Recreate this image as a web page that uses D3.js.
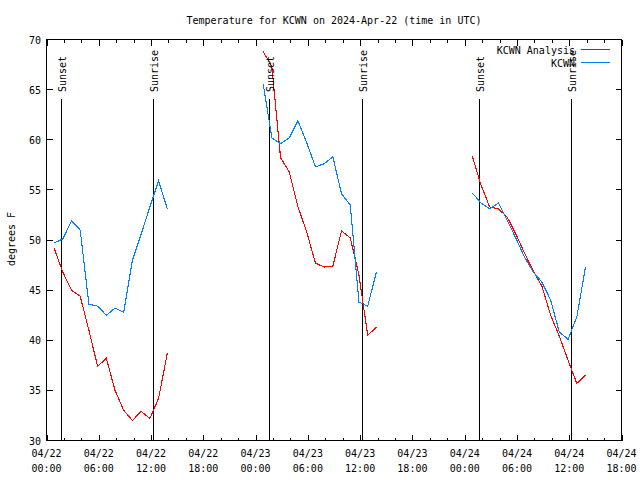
<!DOCTYPE html>
<html><head><meta charset="utf-8">
<script src="https://cdn.jsdelivr.net/npm/d3@7"></script>
<style>
html,body{margin:0;padding:0;background:#fff;}
svg{display:block;}
text{font-family:"DejaVu Sans Mono","Liberation Mono",monospace;font-size:10px;fill:#000;}
</style></head>
<body><svg id="c" width="640" height="480"></svg>
<script>
const titleText = "Temperature for KCWN on 2024-Apr-22 (time in UTC)";
const yLabel = "degrees F";
const seriesNames = ["KCWN Analysis", "KCWN"];
const seriesColors = ["#ff0000", "#0080ff"];
const times = [
 "2024-04-22 00:52","2024-04-22 01:52","2024-04-22 02:52","2024-04-22 03:52","2024-04-22 04:52","2024-04-22 05:52","2024-04-22 06:52",
 "2024-04-22 07:52","2024-04-22 08:52","2024-04-22 09:52","2024-04-22 10:52","2024-04-22 11:52","2024-04-22 12:52","2024-04-22 13:52",
 "2024-04-23 00:52","2024-04-23 01:52","2024-04-23 02:52","2024-04-23 03:52","2024-04-23 04:52","2024-04-23 05:52","2024-04-23 06:52",
 "2024-04-23 07:52","2024-04-23 08:52","2024-04-23 09:52","2024-04-23 10:52","2024-04-23 11:52","2024-04-23 12:52","2024-04-23 13:52",
 "2024-04-24 00:52","2024-04-24 01:52","2024-04-24 02:52","2024-04-24 03:52","2024-04-24 04:52","2024-04-24 05:52","2024-04-24 06:52",
 "2024-04-24 07:52","2024-04-24 08:52","2024-04-24 09:52","2024-04-24 10:52","2024-04-24 11:52","2024-04-24 12:52","2024-04-24 13:52"
];
const analysis = [
 49.2, 46.8, 45.0, 44.4, 41.0, 37.4, 38.2, 35.0, 33.0, 32.0, 32.9, 32.2, 34.2, 38.7,
 68.8, 67.3, 58.2, 56.8, 53.3, 50.8, 47.7, 47.3, 47.4, 50.9, 50.2, 46.5, 40.5, 41.3,
 58.4, 55.5, 53.3, 53.1, 52.3, 50.6, 48.7, 46.9, 45.4, 42.5, 40.4, 38.0, 35.7, 36.5
];
const observed = [
 49.7, 50.1, 51.9, 51.0, 43.6, 43.4, 42.5, 43.2, 42.8, 48.0, 50.6, 53.3, 55.9, 53.1,
 65.6, 60.2, 59.6, 60.2, 61.9, 59.7, 57.3, 57.6, 58.3, 54.6, 53.5, 43.8, 43.4, 46.8,
 54.7, 53.7, 53.1, 53.7, 52.0, 50.2, 48.3, 46.8, 45.8, 44.0, 40.8, 40.1, 42.3, 47.3
];
const sunEvents = [
 {t:"2024-04-22 01:38", label:"Sunset"}, {t:"2024-04-22 12:15", label:"Sunrise"},
 {t:"2024-04-23 01:34", label:"Sunset"}, {t:"2024-04-23 12:13", label:"Sunrise"},
 {t:"2024-04-24 01:40", label:"Sunset"}, {t:"2024-04-24 12:11", label:"Sunrise"}
];
const xDomain = ["2024-04-22 00:00", "2024-04-24 18:00"];
const yDomain = [30, 70];
const yTicks = [30, 35, 40, 45, 50, 55, 60, 65, 70];

const parse = d3.utcParse("%Y-%m-%d %H:%M");
const L = 46.5, R = 621.5, T = 39.5, B = 440.5;
const x = d3.scaleUtc().domain(xDomain.map(parse)).range([L, R]);
const y = d3.scaleLinear().domain(yDomain).range([B, T]);
const svg = d3.select("#c");

// title
svg.append("text").attr("x", (L + R) / 2).attr("y", 24).attr("text-anchor", "middle").text(titleText);
// y label
svg.append("text").attr("transform", "translate(15,239) rotate(-90)").attr("text-anchor", "middle").text(yLabel);

const g = svg.append("g");
// ticks
const majorX = d3.utcHour.every(6).range(x.domain()[0], d3.utcMinute.offset(x.domain()[1], 1));
const minorX = d3.utcHour.every(2).range(x.domain()[0], d3.utcMinute.offset(x.domain()[1], 1));
const tickG = g.append("g").attr("stroke", "#000").attr("shape-rendering", "crispEdges");
minorX.forEach(t => {
  const xx = Math.round(x(t)) + 0.5;
  const len = majorX.some(m => +m === +t) ? 6 : 3;
  tickG.append("line").attr("x1", xx).attr("x2", xx).attr("y1", B).attr("y2", B - len);
  tickG.append("line").attr("x1", xx).attr("x2", xx).attr("y1", T).attr("y2", T + len);
});
yTicks.forEach(v => {
  const yy = Math.round(y(v) - 0.5) + 0.5;
  tickG.append("line").attr("x1", L).attr("x2", L + 6).attr("y1", yy).attr("y2", yy);
  tickG.append("line").attr("x1", R).attr("x2", R - 6).attr("y1", yy).attr("y2", yy);
  svg.append("text").attr("x", 41).attr("y", y(v) + 4).attr("text-anchor", "end").text(v);
});
const fmtD = d3.utcFormat("%m/%d"), fmtT = d3.utcFormat("%H:%M");
majorX.forEach(t => {
  const tx = svg.append("text").attr("x", x(t)).attr("text-anchor", "middle");
  tx.append("tspan").attr("x", x(t)).attr("y", 457).text(fmtD(t));
  tx.append("tspan").attr("x", x(t)).attr("y", 472).text(fmtT(t));
});

// sun lines
sunEvents.forEach(s => {
  const xx = Math.round(x(parse(s.t))) + 0.5;
  g.append("line").attr("x1", xx).attr("x2", xx).attr("y1", 99).attr("y2", B)
    .attr("stroke", "#000").attr("shape-rendering", "crispEdges");
  svg.append("text").attr("transform", `translate(${xx + 4},92) rotate(-90)`).text(s.label);
});

// data lines
const pts = times.map((t, i) => ({t: parse(t), a: analysis[i], o: observed[i]}));
const segs = [];
pts.forEach((p, i) => {
  if (i === 0 || (p.t - pts[i - 1].t) > 2 * 3600e3) segs.push([]);
  segs[segs.length - 1].push(p);
});
[["a", 0], ["o", 1]].forEach(([k, ci]) => {
  const line = d3.line().x(d => x(d.t)).y(d => y(d[k]));
  segs.forEach(s => {
    g.append("path").attr("d", line(s)).attr("fill", "none")
      .attr("stroke", seriesColors[ci]).attr("stroke-width", 1.1)
      .attr("shape-rendering", "crispEdges");
  });
});

// border
svg.append("rect").attr("x", L).attr("y", T).attr("width", R - L).attr("height", B - T)
  .attr("fill", "none").attr("stroke", "#000").attr("shape-rendering", "crispEdges");

// legend
seriesNames.forEach((n, i) => {
  const ly = 49.5 + i * 13;
  svg.append("text").attr("x", 575).attr("y", ly + 4).attr("text-anchor", "end").text(n);
  svg.append("line").attr("x1", 581).attr("x2", 610).attr("y1", ly).attr("y2", ly)
    .attr("stroke", seriesColors[i]).attr("shape-rendering", "crispEdges");
});
</script></body></html>
